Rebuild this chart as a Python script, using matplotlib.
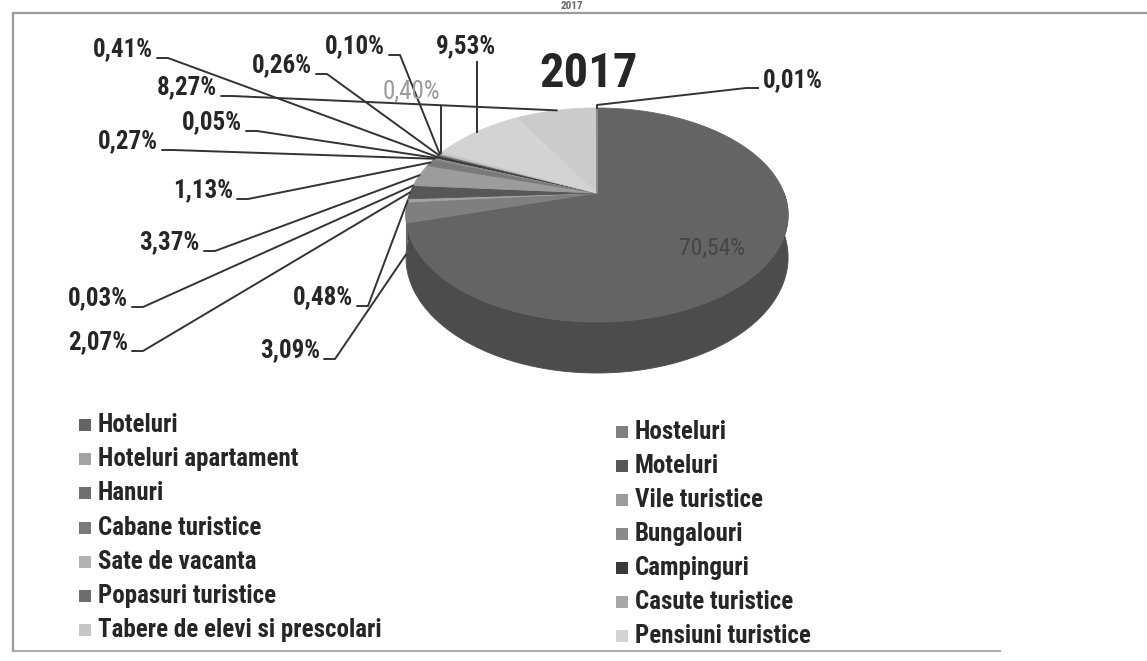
import numpy as np
import matplotlib
matplotlib.use("Agg")
import matplotlib.pyplot as plt
from matplotlib import font_manager
from matplotlib.patches import Polygon, Rectangle

# ---------------- data ----------------
categories = ["Hoteluri", "Hosteluri", "Hoteluri apartament", "Moteluri", "Hanuri",
              "Vile turistice", "Cabane turistice", "Bungalouri", "Sate de vacanta",
              "Campinguri", "Popasuri turistice", "Casute turistice",
              "Tabere de elevi si prescolari", "Pensiuni turistice",
              "Pensiuni agroturistice", "Spatii de cazare pe nave"]
values = [70.54, 3.09, 0.48, 2.07, 0.03, 3.37, 1.13, 0.27, 0.05, 0.41, 0.26,
          0.10, 0.40, 9.53, 8.27, 0.01]
legend_count = 14          # entries visible in the legend
title = "2017"

# ---------------- styles / layout ----------------
colors = ["#646464", "#7f7f7f", "#a3a3a3", "#575757", "#707070", "#9c9c9c",
          "#7a7a7a", "#8a8a8a", "#b3b3b3", "#3a3a3a", "#6d6d6d", "#a8a8a8",
          "#c6c6c6", "#d3d3d3", "#cbcbcb", "#888888"]
# label anchor (x, y) in pixels and leader style
label_pos = [(712, 248), (320, 350), (353, 297), (128, 342), (128, 298),
             (200, 242), (233, 190), (158, 141), (242, 122), (153, 49),
             (312, 65), (385, 46), (411, 91), (466, 46), (217, 87), (763, 80)]
leader_kind = ["none", "h", "h", "h", "h", "h", "h", "h", "h", "h", "h", "h",
               "v", "v", "h", "l"]
leader_drop = [0, 1.0, 0, 0, 0, 0, 0, 0, 0, 0, 0, 0, 0, 0, 0, 0]
label_color = ["#454545"] + ["#262626"] * 11 + ["#9a9a9a"] + ["#262626"] * 3

W, H = 1147, 661
CX, CY = 597, 193          # projected pie centre
A, B, K, D = 187.0, 102.5, 0.2056, 40.5

avail = {f.name for f in font_manager.fontManager.ttflist}
fam = next((f for f in ["Liberation Sans Narrow", "Roboto Condensed",
                        "Open Sans Condensed", "Liberation Sans", "DejaVu Sans"]
            if f in avail), "DejaVu Sans")
plt.rcParams["font.family"] = [fam, "DejaVu Sans"]

fig = plt.figure(figsize=(W / 100, H / 100), dpi=100)
ax = fig.add_axes([0, 0, 1, 1])
ax.set_xlim(0, W)
ax.set_ylim(H, 0)
ax.axis("off")


def rim(theta_deg, drop=0.0):
    t = np.radians(theta_deg)
    u, v = np.sin(t), np.cos(t)
    w = 1 + K * v
    return CX + A * u / w, CY - B * v / w + drop * D / w


def darker(c, f=0.76):
    r, g, b = matplotlib.colors.to_rgb(c)
    return (r * f, g * f, b * f)


total = float(np.sum(values))
bounds = np.concatenate([[0], np.cumsum(values)]) / total * 360.0

# side walls (front half only)
for i in range(len(values)):
    t1, t2 = max(bounds[i], 90), min(bounds[i + 1], 270)
    if t2 <= t1:
        continue
    ts = np.linspace(t1, t2, max(2, int((t2 - t1) * 2)))
    top = [rim(t) for t in ts]
    bot = [rim(t, 1.0) for t in ts[::-1]]
    ax.add_patch(Polygon(top + bot, closed=True, fc=darker(colors[i]),
                         ec=darker(colors[i]), lw=0.6, zorder=2))

# top faces
for i in range(len(values)):
    t1, t2 = bounds[i], bounds[i + 1]
    ts = np.linspace(t1, t2, max(2, int((t2 - t1) * 2)))
    pts = [(CX, CY)] + [rim(t) for t in ts]
    ax.add_patch(Polygon(pts, closed=True, fc=colors[i], ec=colors[i],
                         lw=0.6, zorder=3))

# labels and leader lines
fs = 18
for i, v in enumerate(values):
    txt = f"{v:.2f}".replace(".", ",") + "%"
    x, y = label_pos[i]
    kind = leader_kind[i]
    mid = (bounds[i] + bounds[i + 1]) / 2
    tx, ty = rim(mid, leader_drop[i])
    if kind == "none":
        ax.text(x, y, txt, fontsize=17, color=label_color[i], ha="center",
                va="center", zorder=5)
        continue
    weight = "normal" if label_color[i] == "#9a9a9a" else "bold"
    if kind == "h":
        ax.text(x, y, txt, fontsize=fs, fontweight=weight, color=label_color[i],
                ha="right", va="center", zorder=5)
        sx, sy = x + 4, y + 9
        ax.plot([sx, sx + 11, tx], [sy, sy, ty], color="#333333", lw=1.4,
                solid_capstyle="round", zorder=4)
    elif kind == "v":
        ax.text(x, y, txt, fontsize=fs, fontweight=weight, color=label_color[i],
                ha="center", va="center", zorder=5)
        ax.plot([tx, tx], [y + 16, ty], color="#333333", lw=1.4, zorder=4)
    elif kind == "l":
        ax.text(x, y, txt, fontsize=fs, fontweight=weight, color=label_color[i],
                ha="left", va="center", zorder=5)
        sx, sy = x - 5, y + 8
        ax.plot([sx, sx - 12, tx, tx], [sy, sy, ty - 3, ty], color="#333333",
                lw=1.4, zorder=4)

# title
ax.text(589, 74, title, fontsize=35, fontweight="bold", color="#262626",
        ha="center", va="center", zorder=5)
# title of the scanned page above (only a sliver shows in the reference)
ax.text(572, 1, title, fontsize=8, fontweight="bold", color="#666666",
        ha="center", va="top", zorder=5)

# legend (two columns, row-wise order)
for j in range(legend_count):
    col, row = j % 2, j // 2
    if col == 0:
        mx, ty0 = 79, 425 + row * 34.2
        tx0 = 98
    else:
        mx, ty0 = 616, 432 + row * 34.0
        tx0 = 635
    ax.add_patch(Rectangle((mx, ty0 - 6), 12, 12, fc=colors[j], ec="none",
                           zorder=5))
    ax.text(tx0, ty0, categories[j], fontsize=18, fontweight="bold",
            color="#262626", ha="left", va="center", zorder=5)

# scanned frame
ax.plot([15, W], [13, 13], color="#9a9a9a", lw=1.6, zorder=1)
ax.plot([13, 13], [13, 651], color="#9a9a9a", lw=1.6, zorder=1)
ax.plot([13, 1000], [651, 651], color="#aaaaaa", lw=1.4, zorder=1)

fig.savefig("out.png", dpi=100, facecolor="white")
